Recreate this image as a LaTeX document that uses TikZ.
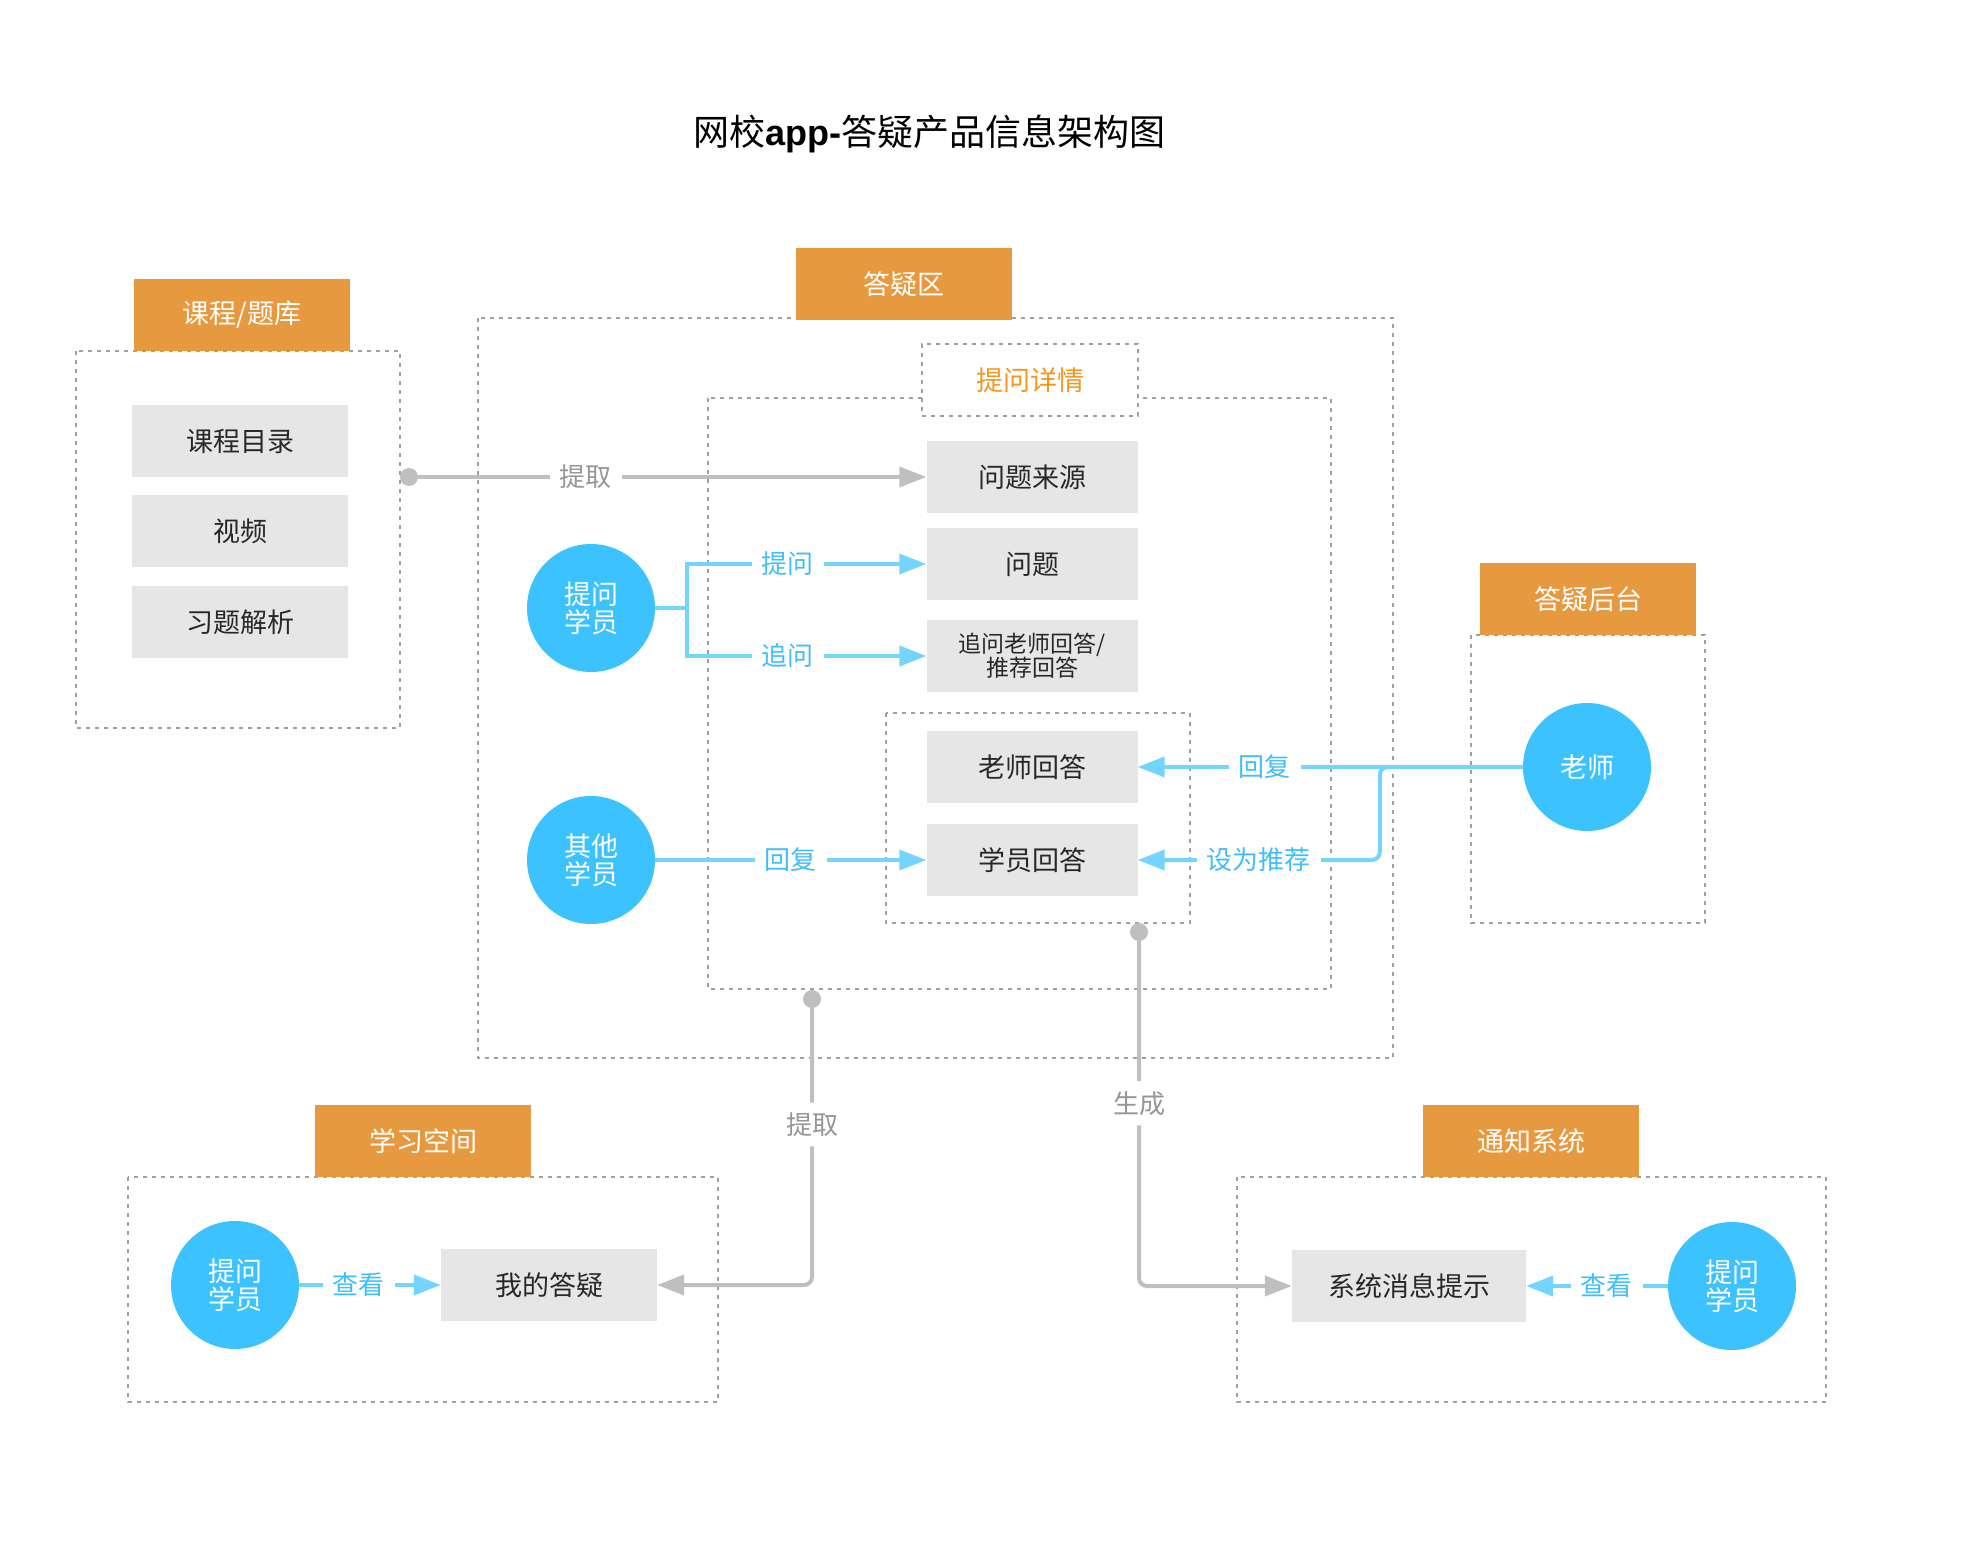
\documentclass[tikz,border=0pt]{standalone}
\usepackage{fontspec}
\setmainfont{Noto Sans CJK SC}
\newfontfamily\latinfont{Liberation Sans}
\usetikzlibrary{arrows.meta, positioning}

\definecolor{headorange}{RGB}{231,153,64}
\definecolor{detailorange}{RGB}{245,150,30}
\definecolor{personblue}{RGB}{60,195,255}
\definecolor{lineblue}{RGB}{115,212,255}
\definecolor{labelblue}{RGB}{64,190,250}
\definecolor{itemgray}{RGB}{230,230,230}
\definecolor{itemtext}{RGB}{40,40,40}
\definecolor{linegray}{RGB}{191,191,191}
\definecolor{labelgray}{RGB}{150,150,150}
\definecolor{dotgray}{RGB}{160,160,160}

\begin{document}
\begin{tikzpicture}[
    x=1pt, y=-1pt,
    node distance=18pt,
    head/.style={rectangle, fill=headorange, text=white, minimum width=216pt, minimum height=72pt, inner sep=0pt, font=\fontsize{27}{30}\selectfont},
    item/.style={rectangle, fill=itemgray, text=itemtext, minimum width=216pt, minimum height=72pt, inner sep=0pt, align=center, font=\fontsize{27}{30}\selectfont},
    person/.style={circle, fill=personblue, text=white, minimum size=128pt, inner sep=0pt, align=center, font=\fontsize{27}{28}\selectfont},
    group/.style={draw=dotgray, line width=2pt, dash pattern=on 4pt off 5pt},
    blab/.style={fill=white, text=labelblue, inner sep=10pt, font=\fontsize{26}{28}\selectfont},
    glab/.style={fill=white, text=labelgray, inner sep=10pt, font=\fontsize{26}{28}\selectfont},
    barrow/.style={draw=lineblue, line width=4pt, -{Triangle[length=27pt, width=20pt]}},
    garrow/.style={draw=linegray, line width=4pt, -{Triangle[length=27pt, width=20pt]}},
    gdot/.style={circle, fill=linegray, minimum size=18pt, inner sep=0pt}
]
\useasboundingbox (0,0) rectangle (1968,1546);

\node[font=\fontsize{36}{42}\selectfont] (title) at (929,134) {网校{\latinfont\bfseries app-}答疑产品信息架构图};

% group frames
\draw[group] (76,351) rectangle (400,728);
\draw[group] (478,318) rectangle (1393,1058);
\draw[group] (708,398) rectangle (1331,989);
\draw[group] (886,713) rectangle (1190,923);
\draw[group] (1471,635) rectangle (1705,923);
\draw[group] (128,1177) rectangle (718,1402);
\draw[group] (1237,1177) rectangle (1826,1402);

% headers
\node[head] (course) at (242,315) {课程/题库};
\node[head] (qa) at (904,284) {答疑区};
\node[head] (admin) at (1588,599) {答疑后台};
\node[head] (space) at (423,1141) {学习空间};
\node[head] (notify) at (1531,1141) {通知系统};
\node[group, fill=white, text=detailorange, minimum width=216pt, minimum height=72pt, inner sep=0pt, font=\fontsize{27}{30}\selectfont] (detail) at (1030,380) {提问详情};

% course column
\node[item] (catalog) at (240,441) {课程目录};
\node[item, below=of catalog] (video) {视频};
\node[item, below=of video] (exercise) {习题解析};

% question detail column
\node[item, minimum width=211pt] (source) at (1032,477) {问题来源};
\node[item, minimum width=211pt] (question) at (1032,564) {问题};
\node[item, minimum width=211pt, font=\fontsize{23}{24}\selectfont] (follow) at (1032,656) {追问老师回答/\\推荐回答};
\node[item, minimum width=211pt] (tans) at (1032,767) {老师回答};
\node[item, minimum width=211pt] (sans) at (1032,860) {学员回答};

% people
\node[person] (asker) at (591,608) {提问\\学员};
\node[person] (other) at (591,860) {其他\\学员};
\node[person] (teacher) at (1587,767) {老师};
\node[person] (asker2) at (235,1285) {提问\\学员};
\node[person] (asker3) at (1732,1286) {提问\\学员};

% bottom items
\node[item] (mine) at (549,1285) {我的答疑};
\node[item, minimum width=234pt] (sysmsg) at (1409,1286) {系统消息提示};

% dots
\node[gdot] (cdot) at (409,477) {};
\node[gdot] (idot) at (812,999) {};
\node[gdot] (adot) at (1139,932) {};

% connectors
\draw[garrow] (cdot) -- node[glab, pos=0.33] {提取} (source.west);
\draw[barrow] (asker.east) -- ++(32,0) |- node[blab, pos=0.71] {提问} (question.west);
\draw[barrow] (asker.east) -- ++(32,0) |- node[blab, pos=0.71] {追问} (follow.west);
\draw[barrow] (other) -- node[blab] {回复} (sans.west);
\draw[barrow] (teacher.west) -- node[blab, pos=0.67] {回复} (tans.east);
\draw[barrow, rounded corners=8pt] (teacher.west) -- ++(-143,0) |- node[blab, pos=0.75] {设为推荐} (sans.east);
\draw[garrow, rounded corners=8pt] (idot) |- node[glab, pos=0.21] {提取} (mine.east);
\draw[garrow, rounded corners=8pt] (adot) |- node[glab, pos=0.235] {生成} (sysmsg.west);
\draw[barrow] (asker2) -- node[blab, pos=0.42] {查看} (mine.west);
\draw[barrow] (asker3) -- node[blab, pos=0.43] {查看} (sysmsg.east);
\end{tikzpicture}
\end{document}
